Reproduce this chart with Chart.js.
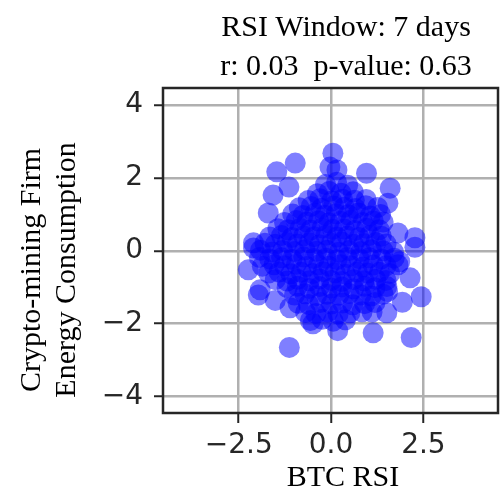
<!DOCTYPE html>
<html>
<head>
<meta charset="utf-8">
<script src="https://cdn.jsdelivr.net/npm/chart.js@4.4.1/dist/chart.umd.min.js"></script>
<style>
  body { margin: 0; background: #fff; }
  canvas { display: block; }
</style>
</head>
<body>
<canvas id="chartRsi" width="500" height="491"></canvas>
<script>
// ============================================
// DATA: BTC RSI vs energy consumption
// ============================================
const titleLines = ["RSI Window: 7 days", "r: 0.03  p-value: 0.63"];
const xAxisTitle = "BTC RSI";
const yAxisTitle = ["Crypto-mining Firm", "Energy Consumption"];

const xTickValues = [-2.5, 0, 2.5];
const xTickLabels = ["\u22122.5", "0.0", "2.5"];
const yTickValues = [-4, -2, 0, 2, 4];
const yTickLabels = ["\u22124", "\u22122", "0", "2", "4"];

// x = BTC RSI, y = energy consumption, row by row through the cloud
const btcRsi = [
  -0.15, 0.15, 0.45,
  -0.37, -0.05, 0.27, 0.6,
  -0.62, -0.3, 0.02, 0.31, 0.63, 0.95,
  -0.86, -0.54, -0.26, 0.07, 0.36, 0.66, 0.94, 1.26,
  -1.04, -0.76, -0.44, -0.16, 0.14, 0.46, 0.74, 1.06, 1.34,
  -1.26, -0.94, -0.66, -0.34, -0.06, 0.26, 0.54, 0.86, 1.14, 1.41,
  -1.44, -1.16, -0.84, -0.56, -0.24, 0.04, 0.36, 0.64, 0.96, 1.3,
  -1.66, -1.34, -1.06, -0.74, -0.46, -0.14, 0.16, 0.44, 0.76, 1.04, 1.36,
  -1.79, -1.51, -1.19, -0.91, -0.59, -0.31, 0.01, 0.29, 0.61, 0.89, 1.21, 1.49,
  -1.91, -1.59, -1.31, -0.99, -0.71, -0.39, -0.11, 0.21, 0.49, 0.81, 1.09, 1.41, 1.69,
  -1.94, -1.66, -1.34, -1.06, -0.74, -0.46, -0.14, 0.16, 0.44, 0.76, 1.04, 1.36, 1.71,
  -1.86, -1.54, -1.26, -0.94, -0.66, -0.34, -0.06, 0.26, 0.54, 0.86, 1.14, 1.49, 1.81,
  -1.69, -1.41, -1.09, -0.81, -0.49, -0.21, 0.11, 0.39, 0.71, 0.99, 1.31, 1.59,
  -1.51, -1.19, -0.91, -0.59, -0.31, 0.01, 0.29, 0.61, 0.89, 1.21, 1.49,
  -1.19, -0.91, -0.59, -0.31, 0.01, 0.29, 0.61, 0.91, 1.19, 1.51,
  -0.99, -0.71, -0.39, -0.11, 0.21, 0.49, 0.81, 1.09, 1.41,
  -0.89, -0.61, -0.29, 0.01, 0.31, 0.59, 0.91, 1.19,
  -0.69, -0.41, -0.09, 0.19, 0.51, 0.84,
  -0.56, -0.24, 0.06, 0.39,
  // outer points
  -0.97, -1.47, -1.14, -1.57, -1.7, 0.05, -0.03, 0.96, 1.6, 1.54, 1.81,
  2.27, 0.16, -2.1, -2.24, -1.92, -1.51, -1.13, -0.49, -1.11, -2.1, 1.14,
  2.17, 2.44, 1.93, 0.18, 2.14, 2.27, 1.86, 1.53, 1.11, -1.97, 1.51
];

const energyUse = [
  1.82, 1.88, 1.8,
  1.57, 1.63, 1.58, 1.62,
  1.38, 1.43, 1.37, 1.42, 1.39, 1.41,
  1.18, 1.22, 1.17, 1.23, 1.2, 1.16, 1.24, 1.19,
  1.01, 0.97, 1.03, 0.98, 1.02, 0.99, 1.04, 0.96, 1.0,
  0.78, 0.83, 0.79, 0.82, 0.77, 0.81, 0.84, 0.78, 0.82, 0.79,
  0.61, 0.58, 0.62, 0.57, 0.63, 0.59, 0.6, 0.56, 0.62, 0.58,
  0.38, 0.42, 0.37, 0.41, 0.39, 0.43, 0.38, 0.41, 0.37, 0.42, 0.4,
  0.21, 0.18, 0.23, 0.19, 0.22, 0.17, 0.21, 0.24, 0.18, 0.2, 0.23, 0.19,
  0.02, -0.03, 0.01, -0.02, 0.03, -0.01, 0.02, -0.04, 0.01, -0.02, 0.03, 0.0, -0.03,
  -0.18, -0.22, -0.19, -0.23, -0.17, -0.21, -0.2, -0.24, -0.18, -0.21, -0.19, -0.22, -0.2,
  -0.42, -0.38, -0.41, -0.37, -0.43, -0.39, -0.42, -0.38, -0.41, -0.44, -0.39, -0.41, -0.38,
  -0.61, -0.58, -0.63, -0.59, -0.62, -0.57, -0.6, -0.64, -0.58, -0.61, -0.59, -0.62,
  -0.79, -0.83, -0.78, -0.82, -0.77, -0.81, -0.84, -0.79, -0.82, -0.78, -0.81,
  -1.01, -0.97, -1.03, -0.98, -1.02, -0.99, -1.04, -0.97, -1.01, -0.98,
  -1.21, -1.18, -1.23, -1.19, -1.22, -1.17, -1.21, -1.24, -1.19,
  -1.44, -1.47, -1.42, -1.46, -1.43, -1.48, -1.45, -1.42,
  -1.69, -1.72, -1.68, -1.73, -1.7, -1.67,
  -1.91, -1.88, -1.93, -1.89,
  // outer points
  2.41, 2.17, 1.75, 1.53, 1.04, 2.68, 2.3, 2.13, 1.72, 1.31, 0.49,
  0.36, 2.22, 0.22, -0.52, -1.07, -1.36, -2.65, -2.0, -1.56, 0.08, -2.25,
  -2.38, -1.26, -1.41, -2.19, -0.74, 0.1, -0.3, -1.12, -1.68, -1.21, -1.7
];

// ============================================
// PLUGIN: frame + serif titles (matplotlib look)
// ============================================
const serif = "'Liberation Serif', 'Times New Roman', serif";

const frameAndTitles = {
  id: "frameAndTitles",
  afterDraw(chart) {
    const { ctx, chartArea: a } = chart;
    ctx.save();
    ctx.strokeStyle = "#262626";
    ctx.lineWidth = 2.5;
    ctx.strokeRect(a.left, a.top, a.right - a.left, a.bottom - a.top);

    ctx.fillStyle = "#000";
    ctx.font = "30px " + serif;
    ctx.textAlign = "center";
    ctx.textBaseline = "alphabetic";
    ctx.fillText(titleLines[0], 346, 36);
    ctx.fillText(titleLines[1], 346, 75);
    ctx.fillText(xAxisTitle, 343, 486);

    ctx.translate(0, 270);
    ctx.rotate(-Math.PI / 2);
    ctx.fillText(yAxisTitle[0], 0, 40);
    ctx.fillText(yAxisTitle[1], 0, 75);
    ctx.restore();
  },
};

// ============================================
// SCATTER CHART
// ============================================
const points = btcRsi.map((x, i) => ({ x: x, y: energyUse[i] }));
const tickFont = { family: "'DejaVu Sans', sans-serif", size: 28 };

const ctx = document.getElementById("chartRsi").getContext("2d");
new Chart(ctx, {
  type: "scatter",
  data: {
    datasets: [{
      data: points,
      backgroundColor: "rgba(0, 0, 255, 0.5)",
      borderWidth: 0,
      pointRadius: 10.5,
      pointHoverRadius: 10.5,
    }],
  },
  options: {
    responsive: false,
    animation: false,
    devicePixelRatio: 1,
    layout: { autoPadding: false, padding: { top: 88, right: 2, left: 0, bottom: 0 } },
    plugins: { legend: { display: false }, tooltip: { enabled: false } },
    scales: {
      x: {
        type: "linear",
        min: -4.55,
        max: 4.52,
        afterBuildTicks: (s) => { s.ticks = xTickValues.map((v) => ({ value: v })); },
        afterFit: (s) => { s.height = 78; },
        ticks: {
          font: tickFont,
          color: "#262626",
          padding: 6,
          maxRotation: 0,
          callback: (v) => xTickLabels[xTickValues.indexOf(v)],
        },
        grid: { color: "#b0b0b0", lineWidth: 2.5, tickColor: "#262626", tickLength: 10, tickWidth: 2 },
        border: { display: false },
      },
      y: {
        type: "linear",
        min: -4.45,
        max: 4.47,
        afterBuildTicks: (s) => { s.ticks = yTickValues.map((v) => ({ value: v })); },
        afterFit: (s) => { s.width = 163; },
        ticks: {
          font: tickFont,
          color: "#262626",
          padding: 11,
          callback: (v) => yTickLabels[yTickValues.indexOf(v)],
        },
        grid: { color: "#b0b0b0", lineWidth: 2.5, tickColor: "#262626", tickLength: 9, tickWidth: 2 },
        border: { display: false },
      },
    },
  },
  plugins: [frameAndTitles],
});
</script>
</body>
</html>
